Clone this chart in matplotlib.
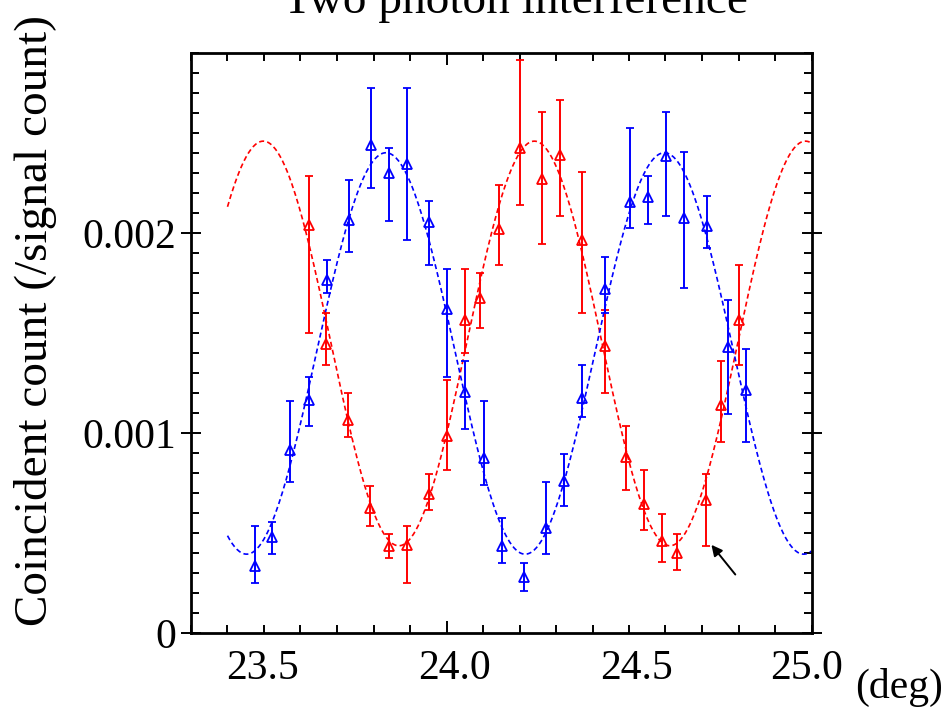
import numpy as np
import matplotlib
matplotlib.use('Agg')
import matplotlib.pyplot as plt
from matplotlib.ticker import FixedLocator, MultipleLocator
from matplotlib.transforms import ScaledTranslation

plt.rcParams['font.family'] = ['Liberation Serif', 'DejaVu Serif']

# angle (deg) and coincident count, counts in units of 1e-3
blue_x = [23.474, 23.523, 23.572, 23.622, 23.672, 23.733, 23.792, 23.842, 23.892,
          23.951, 24.001, 24.052, 24.102, 24.152, 24.211, 24.272, 24.321, 24.372,
          24.433, 24.502, 24.552, 24.602, 24.652, 24.713, 24.772, 24.821]
blue_y = [0.337, 0.480, 0.915, 1.165, 1.762, 2.064, 2.439, 2.299, 2.344,
          2.052, 1.620, 1.202, 0.874, 0.435, 0.282, 0.524, 0.762, 1.172,
          1.719, 2.152, 2.179, 2.385, 2.074, 2.032, 1.427, 1.212]
blue_lo = [0.252, 0.394, 0.757, 1.035, 1.699, 1.902, 2.222, 2.060, 1.962,
           1.839, 1.279, 1.019, 0.739, 0.352, 0.212, 0.394, 0.635, 1.077,
           1.599, 2.022, 2.044, 2.082, 1.722, 1.922, 1.095, 0.957]
blue_hi = [0.535, 0.557, 1.160, 1.279, 1.862, 2.262, 2.722, 2.422, 2.722,
           2.159, 1.819, 1.360, 1.160, 0.574, 0.352, 0.755, 0.895, 1.339,
           1.880, 2.524, 2.282, 2.605, 2.402, 2.185, 1.662, 1.419]

red_x = [23.622, 23.670, 23.731, 23.791, 23.843, 23.891, 23.951, 24.001, 24.052,
         24.092, 24.143, 24.202, 24.262, 24.312, 24.372, 24.433, 24.491, 24.540,
         24.591, 24.632, 24.712, 24.751, 24.801]
red_y = [2.037, 1.444, 1.065, 0.627, 0.435, 0.440, 0.694, 0.982, 1.563,
         1.674, 2.020, 2.424, 2.269, 2.390, 1.962, 1.435, 0.879, 0.645,
         0.460, 0.399, 0.665, 1.140, 1.565]
red_lo = [1.499, 1.339, 0.977, 0.535, 0.377, 0.252, 0.615, 0.815, 1.399,
          1.522, 1.839, 2.140, 1.942, 2.082, 1.599, 1.199, 0.715, 0.515,
          0.354, 0.315, 0.435, 0.957, 1.340]
red_hi = [2.282, 1.599, 1.197, 0.737, 0.495, 0.535, 0.797, 1.262, 1.819,
          1.799, 2.240, 2.865, 2.604, 2.662, 2.302, 1.615, 1.035, 0.815,
          0.595, 0.495, 0.795, 1.360, 1.839]

# fitted cosine curves: mean, amplitude, period (deg), peak position (deg)
blue_fit = (1.397, 1.003, 0.763, 23.834)
red_fit = (1.447, 1.011, 0.7427, 23.498)
fit_range = (23.4, 25.0)

x_ticks = [23.5, 24.0, 24.5, 25.0]
x_ticklabels = ['23.5', '24.0', '24.5', '25.0']
y_ticks = [0, 0.001, 0.002]
y_ticklabels = ['0', '0.001', '0.002']

W, H = 946, 707
fig = plt.figure(figsize=(W / 100, H / 100), dpi=100)
ax = fig.add_axes([191 / W, 1 - 633 / H, 620.5 / W, (633 - 52.7) / H])


def cosine(x, p):
    mean, amp, period, peak = p
    return (mean + amp * np.cos(2 * np.pi * (x - peak) / period)) * 1e-3


xf = np.linspace(fit_range[0], fit_range[1], 500)
for p, c in [(red_fit, '#ff0000'), (blue_fit, '#0000ff')]:
    ax.plot(xf, cosine(xf, p), color=c, lw=1.2, linestyle=(0, (3.0, 1.9)))

for xs, ys, lo, hi, c in [(red_x, red_y, red_lo, red_hi, '#ff0000'),
                          (blue_x, blue_y, blue_lo, blue_hi, '#0000ff')]:
    ys = np.array(ys)
    yerr = [ys - np.array(lo), np.array(hi) - ys]
    ax.errorbar(xs, ys * 1e-3, yerr=np.array(yerr) * 1e-3, fmt='^', color=c,
                mfc='none', mec=c, ms=6.5, mew=1.3, elinewidth=1.4,
                capsize=3, capthick=1.4)

ax.annotate('', xy=(24.721, 0.4515e-3), xytext=(24.796, 0.2815e-3),
            arrowprops=dict(arrowstyle='-|>', color='k', lw=1.4, mutation_scale=16))

ax.set_xlim(23.3, 25.0)
ax.set_ylim(0, 0.0029)

for s in ax.spines.values():
    s.set_linewidth(2)

ax.xaxis.set_major_locator(FixedLocator(x_ticks))
ax.set_xticklabels(x_ticklabels)
ax.xaxis.set_minor_locator(MultipleLocator(0.1))
ax.yaxis.set_major_locator(FixedLocator(y_ticks))
ax.set_yticklabels(y_ticklabels)
ax.yaxis.set_minor_locator(MultipleLocator(0.0001))

ax.tick_params(axis='both', which='both', top=True, right=True, width=1.4,
               labelsize=30)
ax.tick_params(axis='x', which='both', direction='in', length=5.8, pad=12)
ax.tick_params(axis='y', which='minor', direction='in', length=5.5)
ax.tick_params(axis='y', which='major', direction='inout', length=14, pad=3.4)

# only the 24.0 tick is drawn longer
for t in ax.xaxis.get_major_ticks():
    if abs(t.get_loc() - 24.0) < 1e-6:
        t.tick1line.set_markersize(8.6)
        t.tick2line.set_markersize(8.6)

# the x labels sit a little off their ticks in the original
label_shift_px = [-1.5, 8, 8, -4.5]
for lab, dx in zip(ax.get_xticklabels(), label_shift_px):
    lab.set_transform(lab.get_transform() + ScaledTranslation(dx / 100, 0, fig.dpi_scale_trans))

fig.text(515 / W, 1 - 12.7 / H, 'Two photon interference', ha='center',
         va='baseline', fontsize=34)
fig.text(46.7 / W, 1 - 320 / H, 'Coincident count (/signal count)', rotation=90,
         rotation_mode='anchor', ha='center', va='baseline', fontsize=34)
fig.text(855 / W, 1 - 698 / H, '(deg)', ha='left', va='baseline', fontsize=30)

fig.savefig('out.png', dpi=100)
